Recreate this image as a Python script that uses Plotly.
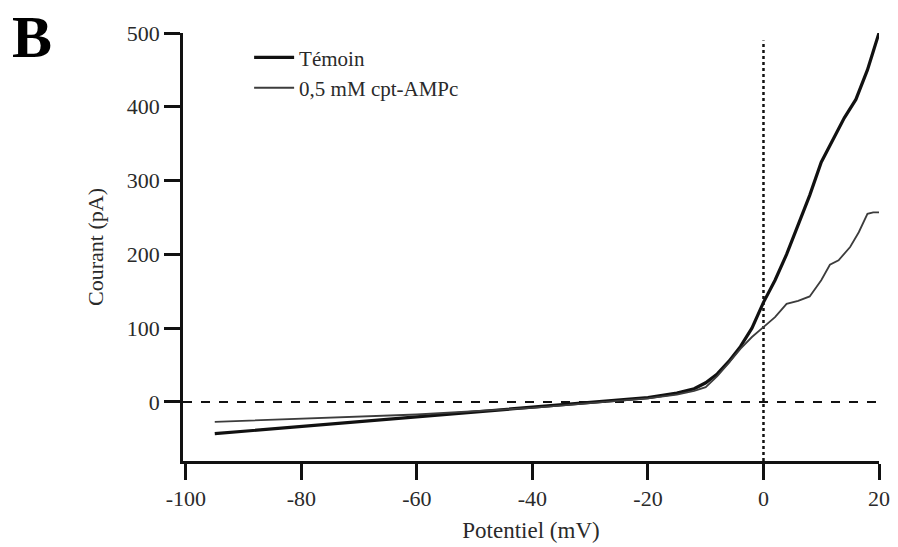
import plotly.graph_objects as go

# Data
v_temoin = [-95, -80, -60, -40, -30, -20, -15, -12, -10, -8, -6, -4, -2, 0, 2, 4, 6, 8, 10, 12, 14, 16, 18, 19, 20]
i_temoin = [-43, -33, -20, -7, 0, 6, 12, 18, 26, 38, 55, 75, 100, 135, 165, 200, 240, 280, 325, 355, 385, 410, 450, 475, 500]

v_cpt = [-95, -88, -80, -60, -40, -30, -20, -15, -12, -10, -8, -6, -4, -2, 0, 2, 4, 6, 8, 10, 11.5, 13, 15, 16.5, 18, 19, 20]
i_cpt = [-27, -25, -23, -17, -8, -1, 5, 10, 15, 20, 35, 53, 72, 88, 102, 115, 133, 137, 143, 165, 186, 192, 210, 230, 255, 257, 257]

x_ticks = [-100, -80, -60, -40, -20, 0, 20]
x_ticktext = ["-100", "-80", "-60", "-40", "-20", "0", "20"]
y_ticks = [0, 100, 200, 300, 400, 500]

font_family = "Liberation Serif, Times New Roman, serif"
text_color = "#2a2a2a"

fig = go.Figure()
fig.add_trace(go.Scatter(x=v_temoin, y=i_temoin, mode="lines", name="Témoin",
                         line=dict(color="#111111", width=3.2)))
fig.add_trace(go.Scatter(x=v_cpt, y=i_cpt, mode="lines", name="0,5 mM cpt-AMPc",
                         line=dict(color="#3c3c3c", width=1.8)))

# reference dashed lines
fig.add_shape(type="line", xref="x", yref="y", x0=-100.5, x1=20, y0=0, y1=0,
              line=dict(color="#111111", width=2, dash="dash"), layer="below")
fig.add_shape(type="line", xref="x", yref="y", x0=0, x1=0, y0=-80, y1=490,
              line=dict(color="#111111", width=2.5, dash="dot"), layer="below")

fig.add_annotation(text="<b>B</b>", xref="paper", yref="paper", x=-0.248, y=0.99,
                   xanchor="left", yanchor="middle", showarrow=False,
                   font=dict(family=font_family, size=60, color="black"))

fig.update_layout(
    width=898, height=547,
    margin=dict(l=183, r=19, t=33, b=86),
    paper_bgcolor="white", plot_bgcolor="white",
    font=dict(family=font_family, size=22, color=text_color),
    showlegend=True,
    legend=dict(x=0.095, y=0.99, xanchor="left", yanchor="top",
                font=dict(family=font_family, size=21, color=text_color),
                bgcolor="rgba(0,0,0,0)", tracegroupgap=0, itemwidth=40),
    xaxis=dict(range=[-100.5, 20], tickvals=x_ticks, ticktext=x_ticktext,
               ticks="outside", ticklen=16, automargin=False,
               tickwidth=2.5, tickcolor="#111111", showline=True, linewidth=2.5,
               linecolor="#111111", showgrid=False, zeroline=False,
               title=dict(text="Potentiel (mV)", standoff=12,
                          font=dict(family=font_family, size=23, color=text_color)),
               tickfont=dict(family=font_family, size=22, color=text_color)),
    yaxis=dict(range=[-80, 500], tickvals=y_ticks, ticks="outside", ticklen=16,
               automargin=False,
               tickwidth=2.5, tickcolor="#111111", showline=True, linewidth=2.5,
               linecolor="#111111", showgrid=False, zeroline=False,
               title=dict(text="Courant (pA)", standoff=18,
                          font=dict(family=font_family, size=22, color=text_color)),
               tickfont=dict(family=font_family, size=22, color=text_color)),
)

fig.write_html("out.html")
